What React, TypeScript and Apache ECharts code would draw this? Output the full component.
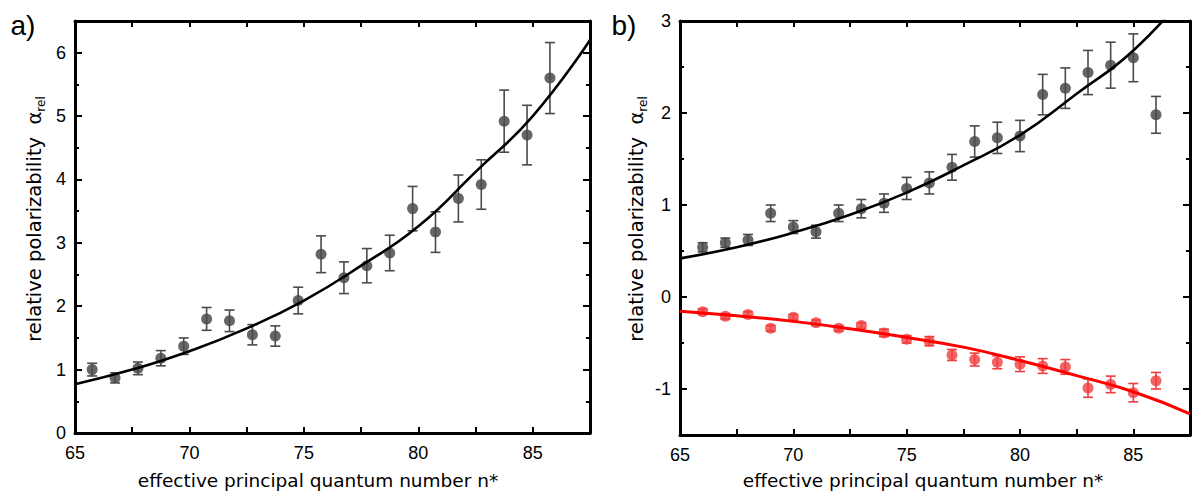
import React, { useEffect, useRef } from "react";
import * as echarts from "echarts";

// ---------- Data ----------
// Panel a
const nStarA = [65.75, 66.75, 67.75, 68.75, 69.75, 70.75, 71.75, 72.75, 73.75, 74.75, 75.75, 76.75, 77.75, 78.75, 79.75, 80.75, 81.75, 82.75, 83.75, 84.75, 85.75];
const alphaA = [1.0, 0.87, 1.02, 1.18, 1.37, 1.8, 1.77, 1.55, 1.53, 2.09, 2.82, 2.45, 2.64, 2.84, 3.54, 3.17, 3.7, 3.92, 4.92, 4.7, 5.6];
const errA = [0.1, 0.08, 0.1, 0.12, 0.13, 0.18, 0.17, 0.16, 0.16, 0.21, 0.29, 0.25, 0.27, 0.28, 0.35, 0.32, 0.37, 0.39, 0.49, 0.47, 0.56];
const fitXA = [65, 67.5, 70, 72.5, 75, 77.5, 80, 82.5, 85, 87.5];
const fitYA = [0.77, 1.0, 1.29, 1.65, 2.09, 2.64, 3.26, 4.12, 5.0, 6.2];

// Panel b
const nStarB = [66, 67, 68, 69, 70, 71, 72, 73, 74, 75, 76, 77, 78, 79, 80, 81, 82, 83, 84, 85, 86];
const blackB = [0.54, 0.59, 0.62, 0.91, 0.76, 0.71, 0.91, 0.96, 1.02, 1.18, 1.24, 1.41, 1.69, 1.73, 1.75, 2.2, 2.27, 2.44, 2.52, 2.6, 1.98];
const blackErrB = [0.05, 0.05, 0.06, 0.09, 0.07, 0.07, 0.09, 0.1, 0.1, 0.12, 0.12, 0.14, 0.17, 0.17, 0.17, 0.22, 0.22, 0.24, 0.25, 0.26, 0.2];
const redB = [-0.16, -0.21, -0.19, -0.34, -0.22, -0.28, -0.34, -0.31, -0.39, -0.46, -0.48, -0.63, -0.68, -0.71, -0.73, -0.75, -0.76, -0.99, -0.95, -1.04, -0.91];
const redErrB = [0.03, 0.03, 0.03, 0.03, 0.03, 0.03, 0.03, 0.03, 0.04, 0.04, 0.05, 0.06, 0.07, 0.07, 0.08, 0.08, 0.08, 0.1, 0.09, 0.1, 0.09];
const fitXB = [65, 67.5, 70, 72.5, 75, 77.5, 80, 82.5, 85, 87.5];
const fitBlackB = [0.42, 0.54, 0.7, 0.895, 1.135, 1.43, 1.76, 2.21, 2.68, 3.34];
const fitRedB = [-0.155, -0.205, -0.265, -0.345, -0.44, -0.545, -0.69, -0.855, -1.03, -1.27];

// Tick positions
const yMajorA = [0, 1, 2, 3, 4, 5, 6];
const yMinorA = [0.5, 1.5, 2.5, 3.5, 4.5, 5.5];
const yMajorB = [-1, 0, 1, 2, 3];
const yMinorB = [-1.5, -0.5, 0.5, 1.5, 2.5];

const X_TITLE = "effective principal quantum number n*";
const Y_TITLE = "relative polarizability  α";

const LABEL_FONT = "Liberation Sans, Arial, sans-serif";
const TITLE_FONT = "DejaVu Sans, Verdana, sans-serif";

const GRAY = "#404040";
const RED = "#f03e3e";

function zip(xs: number[], ys: number[], es?: number[]) {
  return xs.map((x, i) => (es ? [x, ys[i], es[i]] : [x, ys[i]]));
}

function errorBarSeries(data: number[][], xi: number, yi: number, color: string) {
  return {
    type: "custom",
    xAxisIndex: xi,
    yAxisIndex: yi,
    z: 5,
    data,
    renderItem: (params: any, api: any) => {
      const x = api.value(0);
      const y = api.value(1);
      const e = api.value(2);
      const top = api.coord([x, y + e]);
      const bot = api.coord([x, y - e]);
      const hw = 5;
      const style = { stroke: color, lineWidth: 1.6 };
      return {
        type: "group",
        children: [
          { type: "line", shape: { x1: top[0], y1: top[1], x2: bot[0], y2: bot[1] }, style },
          { type: "line", shape: { x1: top[0] - hw, y1: top[1], x2: top[0] + hw, y2: top[1] }, style },
          { type: "line", shape: { x1: bot[0] - hw, y1: bot[1], x2: bot[0] + hw, y2: bot[1] }, style },
        ],
      };
    },
  };
}

function xAxes(gridIndex: number) {
  const base = {
    type: "value",
    gridIndex,
    min: 65,
    max: 87.5,
    interval: 2.5,
    splitLine: { show: false },
    axisLine: { show: true, onZero: false, lineStyle: { color: "#000", width: 3 } },
    axisTick: { show: true, inside: true, length: 6, lineStyle: { color: "#000", width: 2 } },
  };
  return [
    {
      ...base,
      position: "bottom",
      axisLabel: {
        show: true,
        margin: 11,
        fontSize: 18,
        fontFamily: LABEL_FONT,
        color: "#000",
        formatter: (v: number) => (v % 5 === 0 && v < 87 ? String(v) : ""),
      },
    },
    { ...base, position: "top", axisLabel: { show: false } },
  ];
}

function yAxes(gridIndex: number, min: number, max: number, major: number[], minor: number[]) {
  const base = {
    type: "value",
    gridIndex,
    min,
    max,
    splitLine: { show: false },
  };
  const majorAxis = (position: string, labels: boolean) => ({
    ...base,
    position,
    axisLine: { show: true, onZero: false, lineStyle: { color: "#000", width: 3 } },
    axisTick: { show: true, inside: true, length: 7, customValues: major, lineStyle: { color: "#000", width: 2 } },
    axisLabel: labels
      ? { show: true, customValues: major, margin: 9, fontSize: 18, fontFamily: LABEL_FONT, color: "#000" }
      : { show: false },
  });
  const minorAxis = (position: string) => ({
    ...base,
    position,
    axisLine: { show: false },
    axisTick: { show: true, inside: true, length: 4, customValues: minor, lineStyle: { color: "#000", width: 2 } },
    axisLabel: { show: false },
  });
  return [majorAxis("left", true), minorAxis("left"), majorAxis("right", false), minorAxis("right")];
}

function textEl(text: string, x: number, y: number, size: number, font: string) {
  return {
    type: "text",
    x,
    y,
    style: { text, fontSize: size, fontFamily: font, fill: "#000", align: "center", verticalAlign: "middle" },
  };
}

function yTitle(x: number, y: number) {
  return {
    type: "text",
    x,
    y,
    rotation: Math.PI / 2,
    style: {
      text: "{m|" + Y_TITLE + "}{s|rel}",
      align: "center",
      verticalAlign: "middle",
      fill: "#000",
      rich: {
        m: { fontSize: 19.5, fontFamily: TITLE_FONT, lineHeight: 26, fill: "#000" },
        s: { fontSize: 12, fontFamily: TITLE_FONT, verticalAlign: "bottom", fill: "#000" },
      },
    },
  };
}

export default function App() {
  const ref = useRef<HTMLDivElement>(null);
  useEffect(() => {
    document.body.style.margin = "0";
    if (!ref.current) return;
    const chart = echarts.init(ref.current, undefined, { renderer: "svg" });
    const option: any = {
      animation: false,
      backgroundColor: "#fff",
      grid: [
        { left: 75, top: 21, width: 515, height: 412 },
        { left: 680, top: 21, width: 515, height: 414 },
      ],
      xAxis: [...xAxes(0), ...xAxes(1)],
      yAxis: [...yAxes(0, 0, 6.5, yMajorA, yMinorA), ...yAxes(1, -1.5, 3, yMajorB, yMinorB)],
      series: [
        // Panel a
        {
          type: "line",
          xAxisIndex: 0,
          yAxisIndex: 0,
          data: zip(fitXA, fitYA),
          smooth: true,
          showSymbol: false,
          z: 6,
          lineStyle: { color: "#000", width: 2.6 },
        },
        {
          type: "scatter",
          xAxisIndex: 0,
          yAxisIndex: 0,
          data: zip(nStarA, alphaA),
          symbolSize: 11,
          z: 4,
          itemStyle: { color: GRAY },
        },
        errorBarSeries(zip(nStarA, alphaA, errA), 0, 0, "#4a4a4a"),
        // Panel b
        {
          type: "line",
          xAxisIndex: 2,
          yAxisIndex: 4,
          data: zip(fitXB, fitBlackB),
          smooth: true,
          showSymbol: false,
          clip: true,
          z: 6,
          lineStyle: { color: "#000", width: 2.6 },
        },
        {
          type: "line",
          xAxisIndex: 2,
          yAxisIndex: 4,
          data: zip(fitXB, fitRedB),
          smooth: true,
          showSymbol: false,
          clip: true,
          z: 6,
          lineStyle: { color: "#ff0000", width: 3 },
        },
        {
          type: "scatter",
          xAxisIndex: 2,
          yAxisIndex: 4,
          data: zip(nStarB, blackB),
          symbolSize: 11,
          z: 4,
          itemStyle: { color: GRAY },
        },
        errorBarSeries(zip(nStarB, blackB, blackErrB), 2, 4, "#4a4a4a"),
        {
          type: "scatter",
          xAxisIndex: 2,
          yAxisIndex: 4,
          data: zip(nStarB, redB),
          symbolSize: 11,
          z: 4,
          itemStyle: { color: RED },
        },
        errorBarSeries(zip(nStarB, redB, redErrB), 2, 4, RED),
      ],
      graphic: [
        textEl("a)", 23, 25, 28, LABEL_FONT),
        textEl("b)", 624, 25, 28, LABEL_FONT),
        textEl(X_TITLE, 318, 480, 18.5, TITLE_FONT),
        textEl(X_TITLE, 923, 480, 18.5, TITLE_FONT),
        yTitle(34, 219),
        yTitle(636, 219),
      ],
    };
    chart.setOption(option);
    return () => chart.dispose();
  }, []);
  return <div ref={ref} style={{ width: 1193, height: 494 }} />;
}
